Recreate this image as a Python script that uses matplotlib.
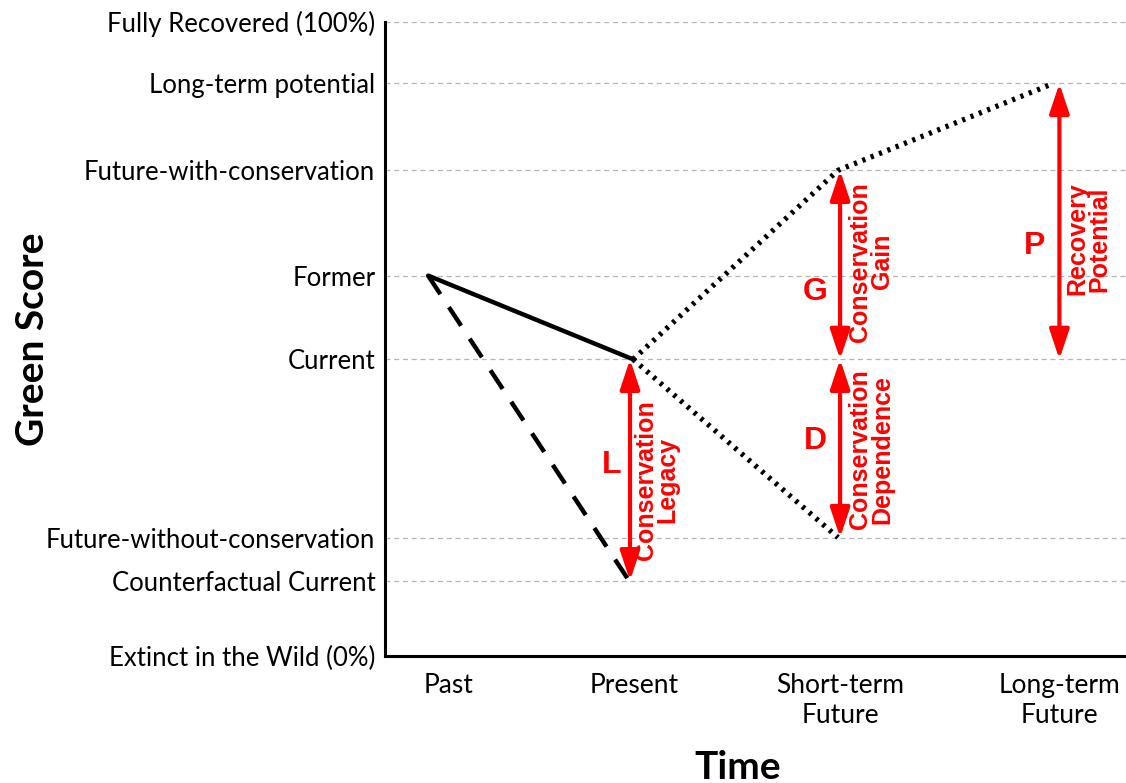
import matplotlib
matplotlib.use("Agg")
import matplotlib.pyplot as plt

# y levels (fraction of full recovery)
level_names = ["Extinct in the Wild (0%)", "Counterfactual Current", "Future-without-conservation",
               "Current", "Former", "Future-with-conservation", "Long-term potential",
               "Fully Recovered (100%)"]
level_vals = [0.0, 0.119, 0.187, 0.468, 0.600, 0.766, 0.903, 1.0]

time_names = ["Past", "Present", "Short-term\nFuture", "Long-term\nFuture"]
time_ticks = [0.098, 1.005, 2.01, 3.08]

# trajectories
actual_x = [0, 1]
actual_y = [0.600, 0.468]
counter_x = [0, 0.98]
counter_y = [0.600, 0.119]
with_x = [1, 2, 3.05]
with_y = [0.468, 0.766, 0.903]
without_x = [1, 2]
without_y = [0.468, 0.187]

# arrows: x, y from, y to, letter, label
arrows = [
    (0.985, 0.468, 0.119, "L", "Conservation\nLegacy"),
    (2.01, 0.766, 0.468, "G", "Conservation\nGain"),
    (2.01, 0.468, 0.187, "D", "Conservation\nDependence"),
    (3.08, 0.903, 0.468, "P", "Recovery\nPotential"),
]
# where letters / labels sit: letter dx, letter y, label dx, label y
arrow_text = [
    (-0.09, 0.302, 0.13, 0.278),
    (-0.12, 0.574, 0.15, 0.622),
    (-0.12, 0.339, 0.15, 0.326),
    (-0.12, 0.646, 0.14, 0.658),
]

fig = plt.figure(figsize=(11.26, 7.83), dpi=100)
ax = fig.add_axes([0.342, 0.162, 0.658, 0.81])
ax.set_xlim(-0.21, 3.405)
ax.set_ylim(0, 1.0)

for v in level_vals[1:]:
    ax.axhline(v, color="#b4b4b4", lw=0.9, ls=(0, (4, 3)), zorder=0)

ax.plot(actual_x, actual_y, color="k", lw=3.2, solid_capstyle="round")
ax.plot(counter_x, counter_y, color="k", lw=3.2, ls=(0, (5, 3.5)))
ax.plot(with_x, with_y, color="k", lw=3.8, ls=(0, (0.6, 1.1)))
ax.plot(without_x, without_y, color="k", lw=3.8, ls=(0, (0.6, 1.1)))

red = "#ff0000"
for (x, y0, y1, letter, label), (ldx, ly, tdx, ty) in zip(arrows, arrow_text):
    ax.annotate("", xy=(x, y1), xytext=(x, y0),
                arrowprops=dict(arrowstyle="<|-|>,head_length=0.9,head_width=0.3",
                                color=red, lw=3, shrinkA=0, shrinkB=0,
                                mutation_scale=20))
    ax.text(x + ldx, ly, letter, color=red, fontsize=23, fontweight="bold",
            family="Liberation Sans", ha="center", va="center")
    ax.text(x + tdx, ty, label, color=red, fontsize=18, fontweight="bold",
            family="Liberation Sans", ha="center", va="center", rotation=90,
            linespacing=0.9)

ax.set_yticks(level_vals)
ax.set_yticklabels(level_names, fontsize=18.5, family="Lato")
ax.set_xticks(time_ticks)
ax.set_xticklabels(time_names, fontsize=19, family="Lato", linespacing=1.25)
ax.tick_params(length=0)
ax.tick_params(axis="y", pad=7)
ax.tick_params(axis="x", pad=12)

for s in ["top", "right"]:
    ax.spines[s].set_visible(False)
for s in ["left", "bottom"]:
    ax.spines[s].set_linewidth(2.2)

ax.set_ylabel("Green Score", fontsize=28, fontweight="bold", family="Lato")
ax.yaxis.set_label_coords(-0.452, 0.5)
ax.set_xlabel("Time", fontsize=28, fontweight="bold", family="Lato")
ax.xaxis.set_label_coords(0.476, -0.148)

fig.savefig("out.png", dpi=100)
